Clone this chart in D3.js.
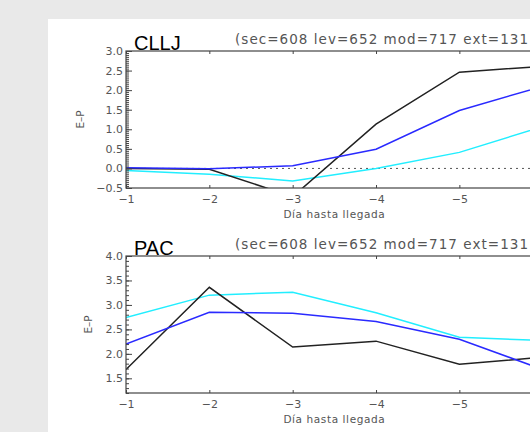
<!DOCTYPE html>
<html><head><meta charset="utf-8">
<script src="https://cdn.jsdelivr.net/npm/d3@7"></script>
<style>
html,body{margin:0;padding:0;background:#e9e9e9;overflow:hidden;}
svg{display:block;}
</style></head>
<body>
<script>
const days = [-1, -2, -3, -4, -5, -6];
const xTicks = [-1, -2, -3, -4, -5];
const subtitle = "(sec=608 lev=652 mod=717 ext=131";
const xTitle = "Día hasta llegada";
const yTitle = "E\u2013P";

const clljBlack = [0.00, -0.02, -0.72, 1.13, 2.46, 2.61];
const clljBlue  = [0.02, -0.01, 0.07, 0.49, 1.48, 2.10];
const clljCyan  = [-0.05, -0.15, -0.32, 0.00, 0.41, 1.07];
const clljYTicks = [-0.5, 0.0, 0.5, 1.0, 1.5, 2.0, 2.5, 3.0];

const pacBlack = [1.68, 3.36, 2.14, 2.26, 1.79, 1.93];
const pacBlue  = [2.20, 2.85, 2.83, 2.66, 2.30, 1.68];
const pacCyan  = [2.74, 3.20, 3.26, 2.84, 2.34, 2.27];
const pacYTicks = [1.5, 2.0, 2.5, 3.0, 3.5, 4.0];

const W = 530, H = 432;
const svg = d3.select("body").append("svg").attr("width", W).attr("height", H);
svg.append("rect").attr("x", 0).attr("y", 0).attr("width", W).attr("height", H).attr("fill", "#e9e9e9");
svg.append("rect").attr("x", 48).attr("y", 19).attr("width", W - 48).attr("height", H - 19).attr("fill", "#ffffff");

const TXT = "#555";
const AX = "#444";

function panel(opts) {
  const {name, top, bottom, domain, yTicks, minorStep, series, zeroLine, yTitleX, id} = opts;
  const left = 126, right = 542.7;
  const x = d3.scaleLinear().domain([-1, -6]).range([left, right]);
  const y = d3.scaleLinear().domain(domain).range([bottom, top]);
  const g = svg.append("g");

  g.append("clipPath").attr("id", id).append("rect")
    .attr("x", left).attr("y", top).attr("width", right - left).attr("height", bottom - top);

  const plot = g.append("g").attr("clip-path", `url(#${id})`);
  if (zeroLine) {
    plot.append("line").attr("x1", left).attr("x2", right).attr("y1", y(0)).attr("y2", y(0))
      .attr("stroke", "#555").attr("stroke-width", 1).attr("stroke-dasharray", "2,4");
  }
  const line = d3.line().x((d, i) => x(days[i])).y(d => y(d));
  series.forEach(s => {
    plot.append("path").datum(s.values).attr("d", line)
      .attr("fill", "none").attr("stroke", s.color).attr("stroke-width", 1.5)
      .attr("stroke-linejoin", "miter");
  });

  g.append("rect").attr("x", left).attr("y", top).attr("width", right - left).attr("height", bottom - top)
    .attr("fill", "none").attr("stroke", AX).attr("stroke-width", 1.2);

  const minor = d3.range(domain[0], domain[1] + 1e-9, minorStep);
  const ya = g.append("g").attr("transform", `translate(${left},0)`)
    .call(d3.axisRight(y).tickValues(minor).tickSize(3).tickFormat(""));
  ya.select(".domain").remove();
  ya.selectAll("line").attr("stroke", AX);
  const yb = g.append("g").attr("transform", `translate(${left},0)`)
    .call(d3.axisLeft(y).tickValues(yTicks).tickSize(0).tickPadding(3));
  yb.select(".domain").remove();
  yb.selectAll("text").attr("fill", TXT).attr("font-family", "DejaVu Sans").attr("font-size", 11)
    .text(d => d3.format(".1f")(d).replace("-", "\u2212"));
  const yMaj = g.append("g").attr("transform", `translate(${left},0)`)
    .call(d3.axisRight(y).tickValues(yTicks).tickSize(6).tickFormat(""));
  yMaj.select(".domain").remove();
  yMaj.selectAll("line").attr("stroke", AX);

  const xa = g.append("g").attr("transform", `translate(0,${bottom})`)
    .call(d3.axisBottom(x).tickValues(xTicks).tickSize(0).tickPadding(7).tickFormat(d => String(d).replace("-", "\u2212")));
  xa.select(".domain").remove();
  xa.selectAll("text").attr("fill", TXT).attr("font-family", "DejaVu Sans").attr("font-size", 11);
  const xt = g.append("g").attr("transform", `translate(0,${bottom})`)
    .call(d3.axisTop(x).tickValues(xTicks).tickSize(3).tickFormat(""));
  xt.select(".domain").remove();
  xt.selectAll("line").attr("stroke", AX);
  const xt2 = g.append("g").attr("transform", `translate(0,${top})`)
    .call(d3.axisBottom(x).tickValues(xTicks).tickSize(3).tickFormat(""));
  xt2.select(".domain").remove();
  xt2.selectAll("line").attr("stroke", AX);

  g.append("text").attr("x", (left + right) / 2).attr("y", bottom + 30).attr("text-anchor", "middle")
    .attr("fill", TXT).attr("font-family", "DejaVu Sans").attr("font-size", 10.5).attr("letter-spacing", 0.6)
    .text(xTitle);

  g.append("text").attr("transform", `translate(${yTitleX},${(top + bottom) / 2}) rotate(-90)`)
    .attr("text-anchor", "middle").attr("fill", TXT).attr("font-family", "DejaVu Sans").attr("font-size", 10.5)
    .text(yTitle);

  g.append("text").attr("x", 134).attr("y", top - 1).attr("fill", "#000")
    .attr("font-family", "Liberation Sans").attr("font-size", 20).text(name);

  g.append("text").attr("x", 235).attr("y", top - 7).attr("fill", TXT)
    .attr("font-family", "DejaVu Sans").attr("font-size", 13.5)
    .attr("textLength", 293).attr("lengthAdjust", "spacing")
    .text(subtitle);
}

panel({name: "CLLJ", id: "c1", top: 51, bottom: 188, domain: [-0.5, 3.0], yTicks: clljYTicks, minorStep: 0.05,
  zeroLine: true, yTitleX: 84,
  series: [{values: clljCyan, color: "#22eeff"}, {values: clljBlack, color: "#222"}, {values: clljBlue, color: "#2a2aff"}]});
panel({name: "PAC", id: "c2", top: 256, bottom: 393, domain: [1.2, 4.0], yTicks: pacYTicks, minorStep: 0.1,
  zeroLine: false, yTitleX: 92,
  series: [{values: pacCyan, color: "#22eeff"}, {values: pacBlack, color: "#222"}, {values: pacBlue, color: "#2a2aff"}]});
</script>
</body></html>
